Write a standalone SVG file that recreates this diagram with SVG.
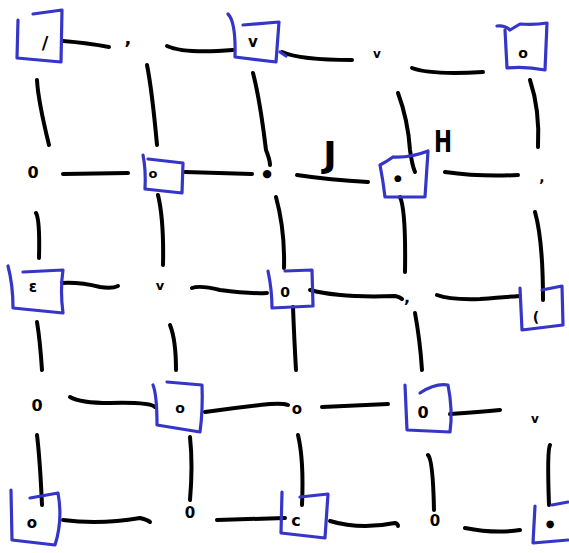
<svg xmlns="http://www.w3.org/2000/svg" width="569" height="553" viewBox="0 0 569 553">
<style>
.e{fill:none;stroke:#000;stroke-width:4;stroke-linecap:round;stroke-linejoin:round}
.b{fill:none;stroke:#3535c8;stroke-width:3.2;stroke-linecap:round;stroke-linejoin:round}
.m{font-family:"DejaVu Sans",sans-serif;font-weight:bold;fill:#000;text-anchor:middle}
.t{font-family:"DejaVu Sans",sans-serif;font-weight:bold;fill:#000;text-anchor:middle}
</style>
<rect width="569" height="553" fill="#fff"/>
<g id="connectors">
<path class="e" d="M63,41 Q88,43 109,47"/>
<path class="e" d="M167,46 Q185,54 233,50"/>
<path class="e" d="M282,52 Q300,60 352,60"/>
<path class="e" d="M412,68 Q430,75 483,72"/>
<path class="e" d="M63,174 L128,173"/>
<path class="e" d="M185,172 L252,174"/>
<path class="e" d="M297,175 Q330,180 368,182"/>
<path class="e" d="M445,172 Q480,177 518,175"/>
<path class="e" d="M62,283 Q80,282 100,287 Q112,289 118,286"/>
<path class="e" d="M192,288 Q200,285 220,290 Q250,294 267,293"/>
<path class="e" d="M310,290 Q340,298 395,296 Q400,297 402,299"/>
<path class="e" d="M437,295 Q450,300 480,299 Q505,297 520,296"/>
<path class="e" d="M70,397 Q80,403 110,403 Q150,402 155,407"/>
<path class="e" d="M205,412 Q240,407 270,404 Q283,403 288,405"/>
<path class="e" d="M322,407 L388,404"/>
<path class="e" d="M450,414 Q480,412 500,410"/>
<path class="e" d="M63,520 Q100,525 140,518 Q148,520 150,522"/>
<path class="e" d="M217,520 L285,518"/>
<path class="e" d="M330,521 Q360,530 395,523 Q398,524 398,526"/>
<path class="e" d="M465,528 Q495,534 520,530"/>
<path class="e" d="M37,80 Q38,100 49,145"/>
<path class="e" d="M147,65 Q152,90 157,145"/>
<path class="e" d="M253,73 Q260,100 266,150 Q270,160 270,165"/>
<path class="e" d="M398,93 Q408,120 410,150 Q412,165 415,172"/>
<path class="e" d="M530,80 Q540,110 538,147"/>
<path class="e" d="M36,213 Q40,220 39,258"/>
<path class="e" d="M158,195 Q164,220 163,265"/>
<path class="e" d="M276,197 Q285,230 284,268"/>
<path class="e" d="M400,197 Q406,210 405,272"/>
<path class="e" d="M535,212 Q543,240 543,300"/>
<path class="e" d="M37,322 Q40,340 42,370"/>
<path class="e" d="M170,325 Q176,340 176,370"/>
<path class="e" d="M293,307 Q294,335 296,370"/>
<path class="e" d="M415,313 Q420,340 422,370"/>
<path class="e" d="M37,435 Q40,460 42,505"/>
<path class="e" d="M190,437 Q193,465 190,500"/>
<path class="e" d="M298,435 Q304,460 302,505"/>
<path class="e" d="M428,455 Q433,460 434,510"/>
<path class="e" d="M550,445 Q547,450 549,505"/>
</g>
<g id="n00"><path class="b" d="M33,14 L62,10 L61,62 L17,58 L18,20"/><text class="m" x="45" y="49" font-size="18">/</text></g>
<g id="n01"><text class="m" x="128" y="44" font-size="18">,</text></g>
<g id="n02"><path class="b" d="M228,14 Q236,22 235,57 L276,62 L279,22 L243,25"/><path class="b" d="M280,52 L286,56"/><text class="m" x="253" y="47" font-size="15">v</text></g>
<g id="n03"><text class="m" x="377" y="58" font-size="12">v</text></g>
<g id="n04"><path class="b" d="M497,26 Q505,25 510,30 L520,24 Q535,25 547,23 L545,70 Q525,66 507,68 L505,30"/><text class="m" x="523" y="58" font-size="14">o</text></g>
<g id="n10"><text class="m" x="33" y="178" font-size="16">0</text></g>
<g id="n11"><path class="b" d="M143,155 Q146,170 145,189 L182,193 L183,163 L148,159"/><text class="m" x="153" y="178" font-size="13">o</text></g>
<g id="n12"><text class="m" x="267" y="177" font-size="11">●</text></g>
<g id="n13"><path class="b" d="M393,157 Q410,158 428,151 L425,197 L385,197 Q383,180 380,165 Q386,162 393,157"/><text class="m" x="398" y="181" font-size="9">●</text></g>
<g id="n14"><text class="m" x="542" y="182" font-size="14">,</text></g>
<g id="n20"><path class="b" d="M8,266 Q13,285 13,308 L63,313 Q60,290 63,270 L23,272"/><text class="m" x="33" y="292" font-size="15">ɛ</text></g>
<g id="n21"><text class="m" x="160" y="290" font-size="13">v</text></g>
<g id="n22"><path class="b" d="M268,271 Q272,290 272,308 L313,306 L312,270 L285,271"/><text class="m" x="285" y="297" font-size="14">0</text></g>
<g id="n23"><text class="m" x="407" y="303" font-size="16">,</text></g>
<g id="n24"><path class="b" d="M520,288 L522,330 L563,325 L562,286 L542,290"/><text class="m" x="536" y="322" font-size="14">(</text></g>
<g id="n30"><text class="m" x="37" y="411" font-size="16">0</text></g>
<g id="n31"><path class="b" d="M153,385 Q157,395 157,425 L200,432 Q203,410 202,385 L167,382"/><text class="m" x="180" y="413" font-size="14">o</text></g>
<g id="n32"><text class="m" x="297" y="414" font-size="15">o</text></g>
<g id="n33"><path class="b" d="M405,385 L407,430 L450,432 Q453,410 448,385 Q435,383 420,393"/><text class="m" x="423" y="418" font-size="16">0</text></g>
<g id="n34"><text class="m" x="535" y="423" font-size="12">v</text></g>
<g id="n40"><path class="b" d="M11,490 L12,540 L55,545 Q63,520 58,493 L30,498"/><text class="m" x="32" y="528" font-size="15">o</text></g>
<g id="n41"><text class="m" x="190" y="518" font-size="15">0</text></g>
<g id="n42"><path class="b" d="M282,492 L281,533 L325,538 L328,494 L300,497"/><text class="m" x="296" y="526" font-size="16">c</text></g>
<g id="n43"><text class="m" x="435" y="526" font-size="15">0</text></g>
<g id="n44"><path class="b" d="M535,506 L533,543 L568,540 M552,505 L568,502"/><text class="m" x="550" y="527" font-size="10">●</text></g>
<g id="labels"><text class="t" x="330" y="167" font-size="36">J</text><text class="t" x="443" y="152" font-size="30" textLength="18" lengthAdjust="spacingAndGlyphs">H</text></g>
</svg>
